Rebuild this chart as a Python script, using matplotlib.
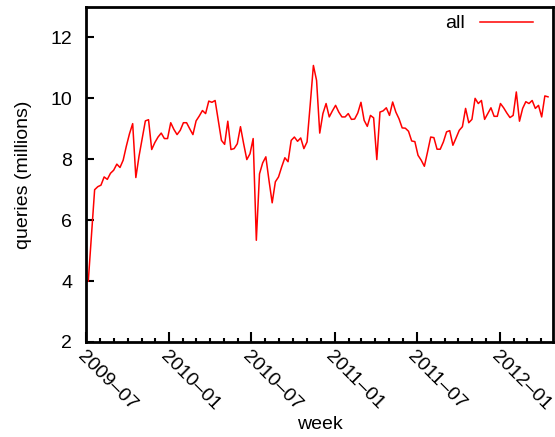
import matplotlib
matplotlib.use("Agg")
import matplotlib.pyplot as plt
import matplotlib.dates as mdates
import numpy as np
import pandas as pd

plt.rcParams['font.family'] = ['Liberation Sans', 'DejaVu Sans']

# weekly query counts (millions)
start_week = "2009-07-06"
queries = [
    4.0, 5.5, 7.0, 7.1, 7.15, 7.42, 7.34, 7.54, 7.64, 7.84,
    7.73, 7.97, 8.43, 8.84, 9.17, 7.4, 8.1, 8.68, 9.26, 9.3,
    8.32, 8.55, 8.73, 8.86, 8.68, 8.68, 9.2, 8.98, 8.81, 8.95,
    9.2, 9.2, 9.0, 8.81, 9.26, 9.42, 9.6, 9.5, 9.91, 9.87,
    9.93, 9.28, 8.62, 8.49, 9.25, 8.32, 8.35, 8.51, 9.07, 8.51,
    7.99, 8.18, 8.68, 5.34, 7.52, 7.88, 8.08, 7.3, 6.57, 7.26,
    7.42, 7.75, 8.05, 7.92, 8.62, 8.73, 8.59, 8.7, 8.35, 8.57,
    9.8, 11.08, 10.59, 8.86, 9.5, 9.83, 9.39, 9.59, 9.77, 9.55,
    9.39, 9.39, 9.5, 9.31, 9.32, 9.52, 9.87, 9.28, 9.08, 9.44,
    9.36, 7.99, 9.55, 9.59, 9.69, 9.44, 9.88, 9.55, 9.33, 9.03,
    9.02, 8.92, 8.6, 8.58, 8.13, 7.97, 7.77, 8.24, 8.73, 8.71,
    8.33, 8.33, 8.57, 8.9, 8.94, 8.46, 8.7, 8.95, 9.07, 9.67,
    9.2, 9.31, 10.0, 9.83, 9.93, 9.31, 9.5, 9.69, 9.41, 9.41,
    9.83, 9.69, 9.52, 9.37, 9.44, 10.21, 9.25, 9.67, 9.89, 9.83,
    9.93, 9.67, 9.77, 9.39, 10.08, 10.05,
]
weeks = pd.date_range(start_week, periods=len(queries), freq="7D")
y_ticks = [2, 4, 6, 8, 10, 12]

fig = plt.figure(figsize=(5.55, 4.37), dpi=100)
ax = fig.add_axes([0.155, 0.2174, 0.8414, 0.7666])

ax.plot(weeks, queries, color="red", lw=1.1, label="all")

ax.set_xlim(pd.Timestamp("2009-07-01"), pd.Timestamp("2012-04-27"))
ax.set_ylim(2, 13)
ax.set_yticks(y_ticks)

ax.xaxis.set_major_locator(mdates.MonthLocator(bymonth=[1, 7]))
ax.xaxis.set_major_formatter(mdates.DateFormatter("%Y\u2013%m"))
ax.xaxis.set_minor_locator(mdates.MonthLocator())

ax.tick_params(axis="both", which="both", direction="in", labelsize=14,
               top=False, right=False, width=1.5)
ax.tick_params(axis="x", which="major", length=7, pad=4)
ax.tick_params(axis="x", which="minor", length=3)
ax.tick_params(axis="y", which="major", length=6, pad=10)
for lbl in ax.get_xticklabels():
    lbl.set_rotation(-45)
    lbl.set_ha("left")
    lbl.set_va("top")
    lbl.set_rotation_mode("anchor")

for s in ax.spines.values():
    s.set_linewidth(2)

ax.set_xlabel("week", fontsize=14, labelpad=2)
ax.set_ylabel("queries (millions)", fontsize=14, labelpad=13)

ax.legend(loc="upper right", bbox_to_anchor=(0.973, 1.0), frameon=False,
          fontsize=14, markerfirst=False, handlelength=2.7,
          handletextpad=0.8, borderaxespad=0)

fig.savefig("out.png", dpi=100)
